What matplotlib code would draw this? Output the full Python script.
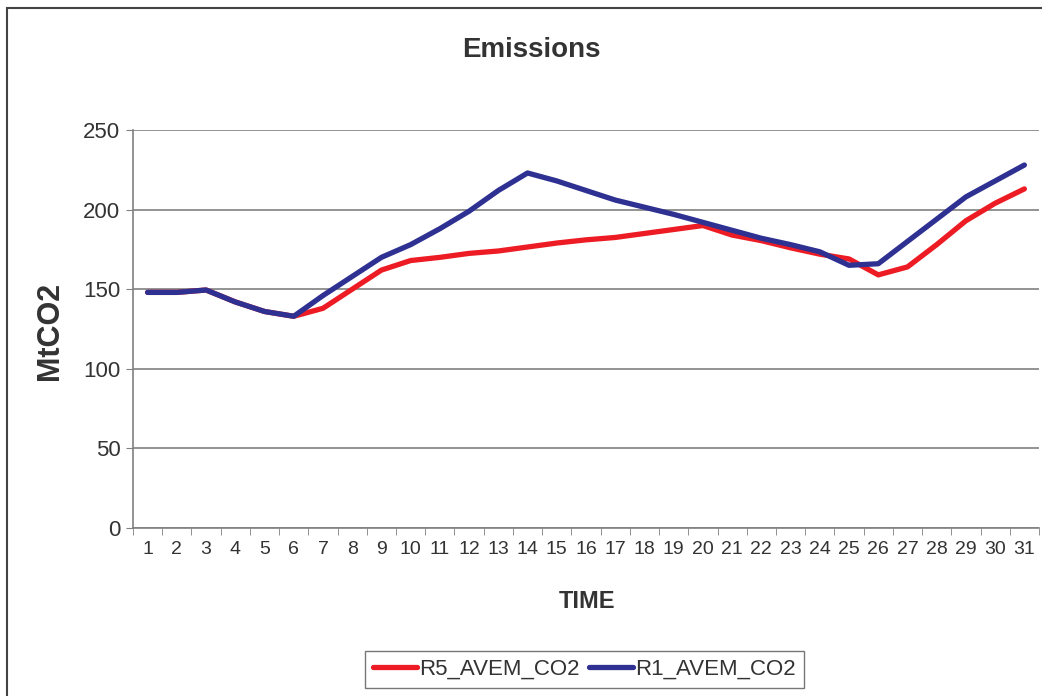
import matplotlib
matplotlib.use("Agg")
import matplotlib.pyplot as plt
from matplotlib.patches import Rectangle
from matplotlib.ticker import FixedLocator

plt.rcParams['font.family'] = ['Liberation Sans', 'DejaVu Sans']

# data
time = list(range(1, 32))
r5_avem_co2 = [148, 148, 149.5, 142, 136, 133, 138, 150, 162, 168, 170, 172.5, 174, 176.5, 179,
               181, 182.5, 185, 187.5, 190, 184, 180.5, 176, 172, 169, 159, 164, 178, 193, 204, 213]
r1_avem_co2 = [148, 148, 149.5, 142, 136, 133, 146, 158, 170, 178, 188, 199, 212, 223, 218,
               212, 206, 201.5, 197, 192, 187, 182, 178, 173.5, 165, 166, 180, 194, 208, 218, 228]

red = '#ED1C24'
blue = '#2E3192'
txt = '#333333'
grey = '#808080'

fig = plt.figure(figsize=(10.42, 6.96), dpi=100)
ax = fig.add_axes([133/1042, 1 - 528/696, 906/1042, 398/696])

ax.plot(time, r5_avem_co2, color=red, lw=3.8, label='R5_AVEM_CO2', solid_capstyle='round')
ax.plot(time, r1_avem_co2, color=blue, lw=3.8, label='R1_AVEM_CO2', solid_capstyle='round')

ax.set_xlim(0.5, 31.5)
ax.set_ylim(0, 250)
ax.set_yticks(range(0, 251, 50))
ax.set_xticks(time)
ax.xaxis.set_minor_locator(FixedLocator([t + 0.5 for t in range(0, 32)]))
ax.tick_params(axis='x', which='major', length=0, pad=9, labelsize=14, labelcolor=txt)
ax.tick_params(axis='x', which='minor', length=5, color=grey, direction='out')
ax.tick_params(axis='y', length=5, color=grey, direction='out', labelsize=16, labelcolor=txt, pad=4)

ax.grid(axis='y', color=grey, lw=1.2)
ax.set_axisbelow(True)
for s in ['top', 'right']:
    ax.spines[s].set_visible(False)
for s in ['left', 'bottom']:
    ax.spines[s].set_color(grey)
    ax.spines[s].set_linewidth(1.2)

fig.text(531/1042, 1 - 50/696, 'Emissions', ha='center', va='center', fontsize=20, fontweight='bold', color=txt)
fig.text(50/1042, 1 - 331/696, 'MtCO2', ha='center', va='center', rotation=90, fontsize=22, fontweight='bold', color=txt)
fig.text(587/1042, 1 - 601/696, 'TIME', ha='center', va='center', fontsize=17, fontweight='bold', color=txt)

leg = fig.legend(loc='center', bbox_to_anchor=(584.5/1042, 1 - 669.5/696), ncol=2, fontsize=16,
                 frameon=True, fancybox=False, edgecolor='#555555', handlelength=2.0,
                 handletextpad=0.1, columnspacing=0.4, borderpad=0.35, borderaxespad=0)
leg.get_frame().set_linewidth(1.0)
for t in leg.get_texts():
    t.set_color(txt)

# outer chart border (only top and left visible in the crop)
fig.patches.append(Rectangle((6.5/1042, -0.1), 1.2, 1 - 7.5/696 + 0.1, transform=fig.transFigure,
                             fill=False, edgecolor='#444444', lw=1.5))

fig.savefig('out.png', dpi=100)
